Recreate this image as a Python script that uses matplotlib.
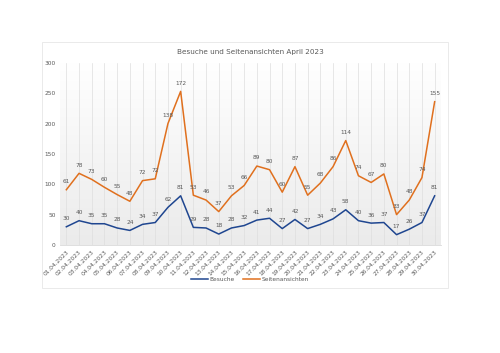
#!usr/bin/python
"""
Besuche und Seitenansichten April 2023: stacked line chart
"""
import matplotlib.pyplot as plt
from matplotlib.colors import LinearSegmentedColormap
from matplotlib.patches import Rectangle
import numpy as np

TITLE = 'Besuche und Seitenansichten April 2023'
DAYS = [f'{d:02d}.04.2023' for d in range(1, 31)]
BESUCHE = [30, 40, 35, 35, 28, 24, 34, 37, 62, 81, 29, 28, 18, 28, 32,
           41, 44, 27, 42, 27, 34, 43, 58, 40, 36, 37, 17, 26, 37, 81]
SEITEN = [61, 78, 73, 60, 55, 48, 72, 72, 138, 172, 53, 46, 37, 53, 66,
          89, 80, 60, 87, 55, 68, 86, 114, 74, 67, 80, 33, 48, 74, 155]
Y_TICKS = [0, 50, 100, 150, 200, 250, 300]

BLUE = '#1F4690'
ORANGE = '#E0701E'
TXT = '#595959'


def main():
    fig = plt.figure(figsize=(5.0, 3.53), dpi=100)
    fig.patch.set_facecolor('white')

    # outer chart border
    fig.patches.append(Rectangle((0.084, 0.184), 0.812, 0.697, transform=fig.transFigure,
                                 fill=False, edgecolor='#e6e6e6', linewidth=0.6))

    ax = fig.add_axes([0.12, 0.306, 0.762, 0.516])
    x = np.arange(len(DAYS))
    stacked = np.array(BESUCHE) + np.array(SEITEN)

    # gradient background: white at top, light grey at bottom
    cmap = LinearSegmentedColormap.from_list('bg', ['#ffffff', '#ebebeb'])
    grad = np.linspace(0, 1, 256).reshape(-1, 1)
    ax.imshow(grad, extent=[0, 1, 0, 1], transform=ax.transAxes, cmap=cmap,
              origin='upper', aspect='auto', zorder=0)
    ax.set_xlim(-0.5, len(DAYS) - 0.5)
    ax.set_ylim(0, 300)

    for xi in x:
        ax.axvline(xi, color='#dedede', linewidth=0.5, zorder=1)

    ax.plot(x, BESUCHE, color=BLUE, linewidth=1.1, label='Besuche', zorder=3)
    ax.plot(x, stacked, color=ORANGE, linewidth=1.1, label='Seitenansichten', zorder=3)

    for xi, b, s, t in zip(x, BESUCHE, SEITEN, stacked):
        ax.annotate(str(b), (xi, b), xytext=(0, 4), textcoords='offset points',
                    ha='center', va='bottom', fontsize=4.2, color=TXT, zorder=4)
        ax.annotate(str(s), (xi, t), xytext=(0, 4), textcoords='offset points',
                    ha='center', va='bottom', fontsize=4.2, color=TXT, zorder=4)

    ax.set_yticks(Y_TICKS)
    ax.set_yticklabels([str(v) for v in Y_TICKS], fontsize=4.2, color=TXT)
    ax.set_xticks(x)
    ax.set_xticklabels(DAYS, rotation=45, ha='right', rotation_mode='anchor',
                       fontsize=4.2, color=TXT)
    ax.tick_params(length=0, pad=3)
    for side in ['top', 'right', 'left']:
        ax.spines[side].set_visible(False)
    ax.spines['bottom'].set_color('#d9d9d9')
    ax.spines['bottom'].set_linewidth(0.6)

    fig.text(0.5, 0.852, TITLE, ha='center', va='center', fontsize=5.2, color=TXT)
    fig.legend(loc='center', bbox_to_anchor=(0.5, 0.207), ncol=2, frameon=False,
               fontsize=4.2, labelcolor=TXT, handlelength=2.8, columnspacing=1.5,
               handletextpad=0.3)

    plt.savefig('out.png', dpi=100)


if __name__ == '__main__':
    main()
